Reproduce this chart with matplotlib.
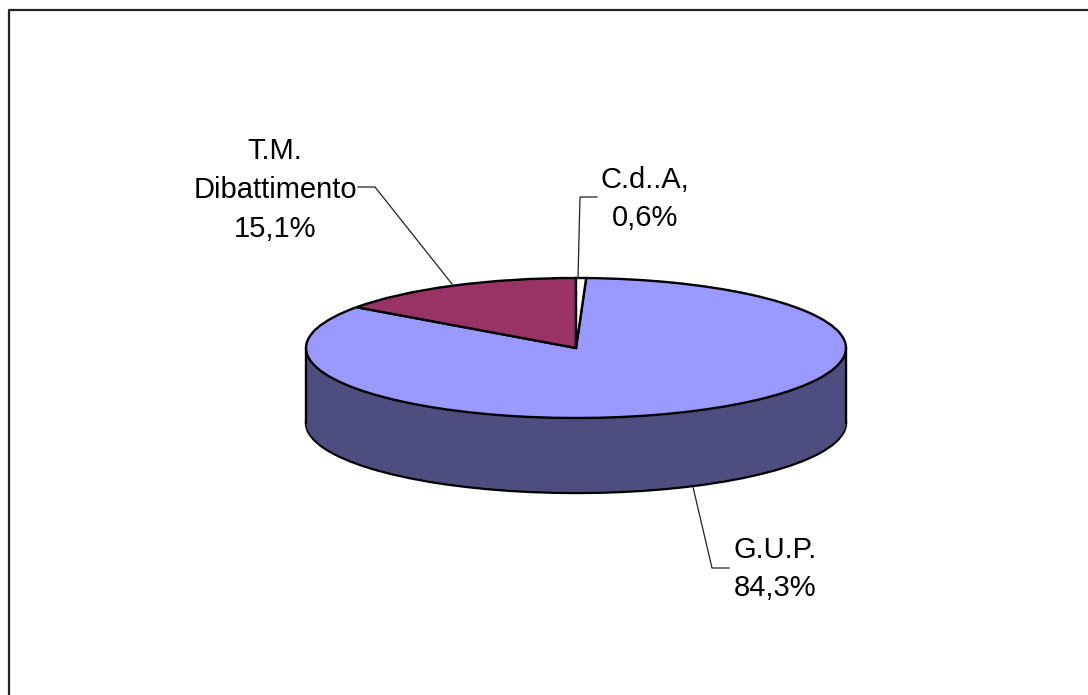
import numpy as np
from matplotlib import pyplot as plt, transforms

plt.rcParams['font.family'] = ['Liberation Sans', 'DejaVu Sans']

labels = ["G.U.P.\n84,3%", "T.M.\nDibattimento\n15,1%", "C.d..A,\n0,6%"]
values = [84.3, 15.1, 0.6]
top_colors = ["#9999FF", "#993366", "#FFFFFF"]
side_colors = ["#4D4D80", "#4D1A33", "#808080"]

W, H = 1088, 695
cx, cy = 576, 348
rx, ry = 270, 70
depth = 75
edge_lw = 1.7

fig = plt.figure(figsize=(W / 100, H / 100), dpi=100)
ax = fig.add_axes([0, 0, 1, 1])

# pixel coords, y down, for the labels and leader lines
px = transforms.Affine2D().scale(1, -1).translate(0, H)

start = 90 - values[2] * 3.6
d_last = depth / ry

# side of the disc: same pie stacked downwards
ax.pie(values, colors=side_colors, startangle=start, counterclock=False,
       center=(0, -d_last), wedgeprops=dict(edgecolor="black", linewidth=edge_lw))
for d in np.linspace(d_last, 0, 60)[1:]:
    ax.pie(values, colors=side_colors, startangle=start, counterclock=False,
           center=(0, -d), wedgeprops=dict(edgecolor="none"))
ax.plot([-1, -1], [0, -d_last], color="black", lw=edge_lw)
ax.plot([1, 1], [0, -d_last], color="black", lw=edge_lw)

# top of the disc
ax.pie(values, colors=top_colors, startangle=start, counterclock=False,
       wedgeprops=dict(edgecolor="black", linewidth=edge_lw))

ax.set_aspect("auto")
ax.set_xlim(-cx / rx, (W - cx) / rx)
ax.set_ylim((cy - H) / ry, cy / ry)
ax.axis("off")

# leader lines
leaders = [
    ([729, 712, 693], [568, 568, 487]),
    ([358, 375, 452], [187, 187, 284]),
    ([597, 580, 578], [197, 197, 278]),
]
for xs, ys in leaders:
    fig.add_artist(plt.Line2D(xs, ys, color="#222222", lw=0.9, transform=px))

# labels
positions = [(775, 569), (275, 190), (645, 199)]
for lab, (x, y) in zip(labels, positions):
    fig.text(x, y, lab, transform=px, ha="center", va="center", fontsize=21,
             linespacing=1.5, color="black")

# chart border, only top and left are inside the picture
fig.add_artist(plt.Line2D([9, 9, W], [H, 10, 10], color="#222222", lw=1.6, transform=px))

fig.savefig("out.png", dpi=100)
